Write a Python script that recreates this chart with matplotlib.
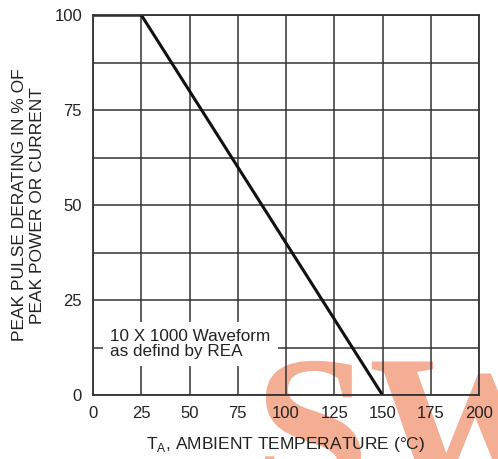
import numpy as np
import matplotlib.pyplot as plt

plt.rcParams['font.family'] = ['Liberation Sans', 'DejaVu Sans']

# derating curve
temp = [0, 25, 150]
derating = [100, 100, 0]

x_ticks = [0, 25, 50, 75, 100, 125, 150, 175, 200]
y_ticks = [0, 25, 50, 75, 100]
y_minor = [12.5, 37.5, 62.5, 87.5]

fig = plt.figure(figsize=(4.98, 4.59), dpi=100)
ax = fig.add_axes([0.187, 0.139, 0.775, 0.828])
ax.patch.set_alpha(0)

ink = '#222222'
ax.set_xlim(0, 200)
ax.set_ylim(0, 100)
ax.set_xticks(x_ticks)
ax.set_yticks(y_ticks)
ax.set_yticks(y_minor, minor=True)
ax.tick_params(which='both', length=0, labelsize=12, colors=ink, pad=8)
ax.grid(True, which='both', color='#333333', linewidth=1.1)
for s in ax.spines.values():
    s.set_color('#333333')
    s.set_linewidth(1.3)

ax.plot(temp, derating, color='#111111', linewidth=2.2, solid_capstyle='butt')

ax.text(9, 13.5, '10 X 1000 Waveform\nas defind by REA', fontsize=12.3,
        color=ink, va='center', ha='left', linespacing=1.05,
        bbox=dict(facecolor='white', edgecolor='none', pad=5))

ax.set_ylabel('PEAK PULSE DERATING IN % OF\nPEAK POWER OR CURRENT',
              fontsize=12.5, color=ink, linespacing=1.25, labelpad=7)
ax.set_xlabel('T$_\\mathregular{A}$, AMBIENT TEMPERATURE (°C)', fontsize=12.5,
              color=ink, labelpad=10)

# watermark, kept behind the chart
fig.text(0.51, -0.085, 'SW', fontsize=150, family='Liberation Serif',
         fontweight='bold', color='#f29a7a', alpha=0.8, ha='left',
         va='baseline', zorder=-1)

fig.savefig('out.png', dpi=100)
